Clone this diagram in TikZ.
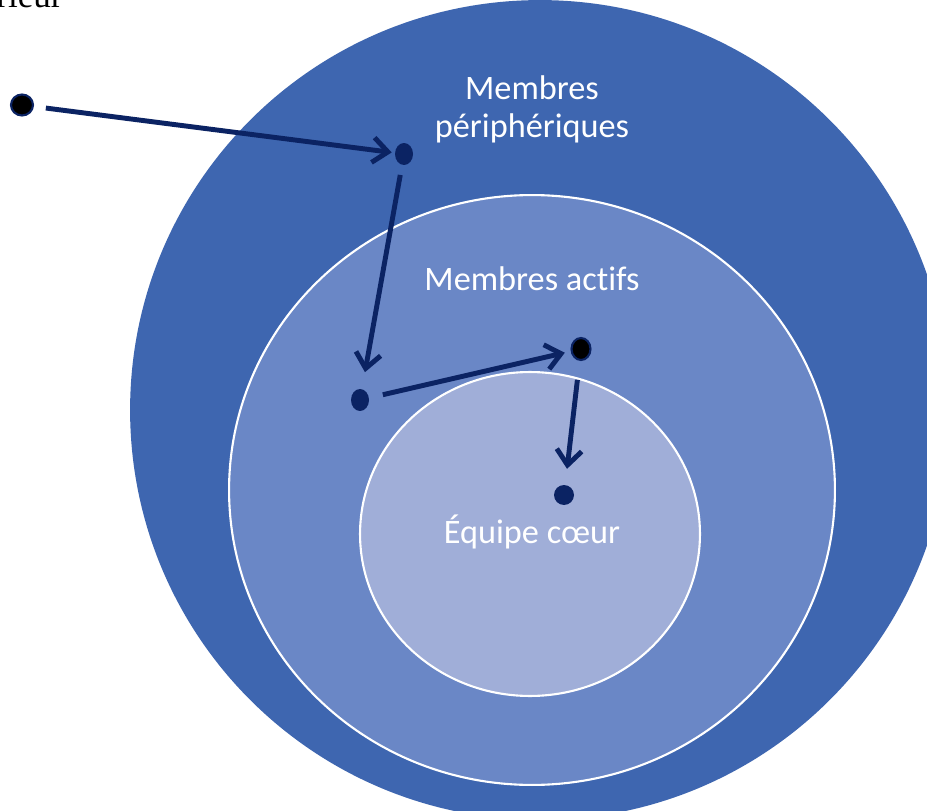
\documentclass[tikz,border=0pt]{standalone}
\usepackage{fontspec}
\setmainfont{Liberation Serif}
\setsansfont{Carlito}[Ligatures=NoCommon]
\usetikzlibrary{arrows.meta,shapes.geometric}

\definecolor{ringout}{HTML}{3E66B0}
\definecolor{ringmid}{HTML}{6A87C6}
\definecolor{ringin}{HTML}{A0AED8}
\definecolor{navy}{HTML}{0B2363}

\begin{document}
\begin{tikzpicture}[x=0.02cm,y=-0.02cm,
    dot/.style={ellipse,fill=navy,inner sep=0pt,minimum width=0.36cm,minimum height=0.44cm},
    blackdot/.style={dot,fill=black,draw=navy,line width=1.2pt},
    move/.style={draw=navy,line width=2.8pt,-{Straight Barb[length=0.3cm,width=0.5cm,line width=2.8pt]}},
    label/.style={font=\sffamily\fontsize{19.5}{21.6}\selectfont,text=white,align=center}]
    % Page and clip
    \useasboundingbox (0,0) rectangle (927,811);
    \clip (0,0) rectangle (927,811);
    \fill[white] (0,0) rectangle (927,811);

    % Rings
    \fill[ringout] (540,410) circle [radius=8.2cm];
    \filldraw[ringmid,draw=white,line width=1.2pt] (532,490) ellipse [x radius=6.06cm,y radius=5.9cm];
    \filldraw[ringin,draw=white,line width=1.2pt] (530,534) ellipse [x radius=3.4cm,y radius=3.24cm];

    % Labels
    \node[font=\fontsize{20}{22}\selectfont,anchor=base east,inner sep=0pt] (ext) at (63,8) {Extérieur};
    \node[label] (peri) at (532,109) {Membres\\périphériques};
    \node[label] (actifs) at (532,279) {Membres actifs};
    \node[label] (coeur) at (532,532) {Équipe cœur};

    % Members
    \node[blackdot,minimum width=0.44cm,minimum height=0.42cm] (m1) at (22,105) {};
    \node[dot] (m2) at (404,154) {};
    \node[dot] (m3) at (360,400) {};
    \node[blackdot,minimum width=0.38cm] (m4) at (581,349) {};
    \node[dot,minimum width=0.4cm,minimum height=0.4cm] (m5) at (564,495) {};

    % Path inwards
    \draw[move,shorten <=0.24cm,shorten >=0.06cm] (m1) -- (m2);
    \draw[move,shorten <=0.2cm,shorten >=0.34cm] (m2) -- (m3);
    \draw[move,shorten <=0.28cm,shorten >=0.12cm] (m3) -- (m4);
    \draw[move,shorten <=0.38cm,shorten >=0.32cm] (m4) -- (m5);
\end{tikzpicture}
\end{document}
